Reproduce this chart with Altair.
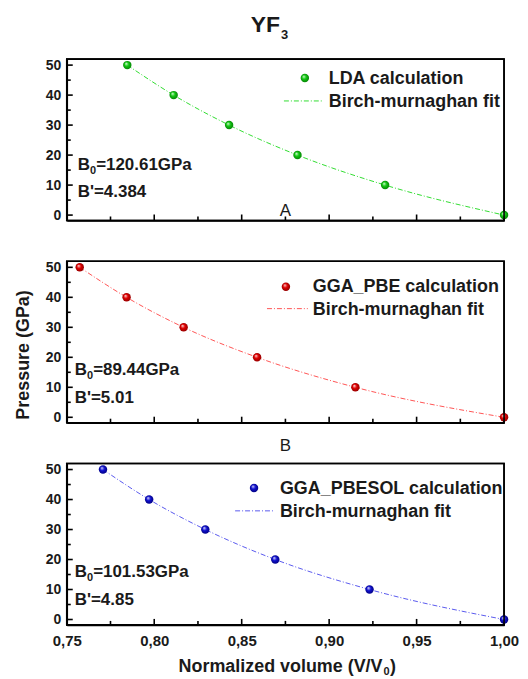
import altair as alt
import pandas as pd

# ---------------- data ----------------
pressures = [50, 40, 30, 20, 10, 0]
vol_lda = [0.7846, 0.8111, 0.8428, 0.8819, 0.9320, 1.0]
vol_pbe = [0.7574, 0.7842, 0.8168, 0.8588, 0.9150, 1.0]
vol_pbesol = [0.7707, 0.7971, 0.8292, 0.8692, 0.9231, 1.0]

series_names = ["LDA calculation", "GGA_PBE calculation", "GGA_PBESOL calculation"]
fit_name = "Birch-murnaghan fit"
b0_texts = ["=120.61GPa", "=89.44GPa", "=101.53GPa"]
bp_texts = ["B'=4.384", "B'=5.01", "B'=4.85"]
panel_letters = ["A", "B", None]

x_major = [0.75, 0.80, 0.85, 0.90, 0.95, 1.00]
x_minor = [0.775, 0.825, 0.875, 0.925, 0.975]
y_major = [0, 10, 20, 30, 40, 50]
y_minor = [5, 15, 25, 35, 45]

# ---------------- style ----------------
FONT = "Liberation Sans"
INK = "black"
W, H = 439, 162
xscale = alt.Scale(domain=[0.75, 1.0], nice=False, zero=False)
yscale = alt.Scale(domain=[-1.8, 52], nice=False, zero=False)

point_colors = [("#e8ffe8", "#10c810", "#067a06"),
                ("#ffe8e8", "#e00000", "#8a0000"),
                ("#e8e8ff", "#1010d0", "#00007a")]
line_colors = ["#33dd33", "#ff5555", "#5a5aee"]

# legend/annotation layout per panel (pixels inside plot area)
leg = [
    dict(px=239, py=19, tx=263, t1=25, lx1=218, lx2=258, ly=42, t2=48.5, ax=11, b0y=111, bpy=138),
    dict(px=220, py=25.5, tx=247, t1=31, lx1=201, lx2=242, ly=47.5, t2=53.5, ax=8, b0y=114.5, bpy=142.5),
    dict(px=188, py=24.5, tx=214, t1=31, lx1=169, lx2=209, ly=47.5, t2=54, ax=8, b0y=114, bpy=142),
]

one = pd.DataFrame({"k": [0]})


def grad(c):
    hi, mid, lo = c
    return alt.Gradient(
        gradient="radial",
        stops=[alt.GradientStop(color=hi, offset=0.0),
               alt.GradientStop(color=mid, offset=0.45),
               alt.GradientStop(color=lo, offset=1.0)],
        x1=0.35, y1=0.3, r1=0.0, x2=0.5, y2=0.5, r2=0.55,
    )


def txt(text, x, y, size, weight="bold", align="left", angle=0, baseline="alphabetic"):
    kw = dict(text=text, font=FONT, fontSize=size, fontWeight=weight, color="#1a1a1a",
              align=align, baseline=baseline)
    if angle:
        kw["angle"] = angle
    return alt.Chart(one).mark_text(**kw).encode(x=alt.value(x), y=alt.value(y))


def panel(i, vols, show_x):
    L = leg[i]
    if show_x:
        xaxis = alt.Axis(values=x_major, ticks=False, domain=True, domainColor=INK,
                         domainWidth=1.6, grid=False, title=None,
                         labelExpr="replace(format(datum.value, '.2f'), '.', ',')",
                         labelFont=FONT, labelFontSize=15, labelFontWeight="bold",
                         labelColor="#1a1a1a", labelPadding=9, labelFlush=False,
                         labelOverlap=False)
    else:
        xaxis = alt.Axis(labels=False, ticks=False, domain=True, domainColor=INK,
                         domainWidth=1.6, grid=False, title=None)
    yaxis = alt.Axis(values=y_major, ticks=False, domain=True, domainColor=INK,
                     domainWidth=1.6, grid=False, title=None,
                     labelFont=FONT, labelFontSize=14, labelFontWeight="bold",
                     labelColor="#1a1a1a", labelPadding=6)

    pts = pd.DataFrame({"V": vols, "P": pressures})
    X = alt.X("V:Q", scale=xscale, axis=xaxis)
    Y = alt.Y("P:Q", scale=yscale, axis=yaxis)

    fit = alt.Chart(pts).mark_line(interpolate="monotone", color=line_colors[i],
                                   strokeWidth=1, strokeDash=[5, 2, 1, 2]).encode(x=X, y=Y)
    dots = alt.Chart(pts).mark_circle(size=72, opacity=1, fill=grad(point_colors[i])).encode(x=X, y=Y)

    ymaj = alt.Chart(pd.DataFrame({"P": y_major})).mark_rule(color=INK, strokeWidth=1.6).encode(
        y=Y, x=alt.value(0), x2=alt.value(6))
    ymin = alt.Chart(pd.DataFrame({"P": y_minor})).mark_rule(color=INK, strokeWidth=1.6).encode(
        y=Y, x=alt.value(0), x2=alt.value(4))
    xmaj = alt.Chart(pd.DataFrame({"V": x_major})).mark_rule(color=INK, strokeWidth=1.6).encode(
        x=X, y=alt.value(H), y2=alt.value(H - 6))
    xmin = alt.Chart(pd.DataFrame({"V": x_minor})).mark_rule(color=INK, strokeWidth=1.6).encode(
        x=X, y=alt.value(H), y2=alt.value(H - 4))

    leg_dot = alt.Chart(one).mark_circle(size=72, opacity=1, fill=grad(point_colors[i])).encode(
        x=alt.value(L["px"]), y=alt.value(L["py"]))
    leg_line = alt.Chart(one).mark_rule(color=line_colors[i], strokeWidth=1,
                                        strokeDash=[5, 2, 1, 2]).encode(
        x=alt.value(L["lx1"]), x2=alt.value(L["lx2"]), y=alt.value(L["ly"]))
    leg_t1 = txt(series_names[i], L["tx"], L["t1"], 18)
    leg_t2 = txt(fit_name, L["tx"], L["t2"], 18)

    a_b = txt("B", L["ax"], L["b0y"], 17)
    a_0 = txt("0", L["ax"] + 12.3, L["b0y"] + 4, 11)
    a_v = txt(b0_texts[i], L["ax"] + 18.5, L["b0y"], 17)
    a_p = txt(bp_texts[i], L["ax"], L["bpy"], 17)

    frame = alt.Chart(one).mark_rect(fill=None, stroke=INK, strokeWidth=1.6).encode(
        x=alt.value(0), x2=alt.value(W), y=alt.value(0), y2=alt.value(H))

    # invisible spacer that gives every panel the same layout extent
    top_extent = -48.5 if i == 0 else 0
    spacer = alt.Chart(one).mark_rule(color="white", opacity=0, strokeWidth=1).encode(
        x=alt.value(-57.5), x2=alt.value(-57.5), y=alt.value(top_extent), y2=alt.value(193.5))

    layers = [spacer, ymaj, ymin, xmaj, xmin, fit, dots, leg_dot, leg_line, leg_t1, leg_t2,
              a_b, a_0, a_v, a_p]

    if panel_letters[i] == "A":
        layers.append(txt("A", W / 2, 158, 17, weight="normal", align="center"))
    if panel_letters[i] == "B":
        layers.append(txt("B", W / 2, 190, 17, weight="normal", align="center"))
    if i == 0:
        layers.append(txt("YF", 214, -27, 23, align="right"))
        layers.append(txt("3", 215, -20.5, 13))
    if i == 1:
        layers.append(txt("Pressure (GPa)", -43, 94, 18, align="center", angle=270,
                          baseline="middle"))
    if i == 2:
        layers.append(txt("Normalized volume (V/V", 317, 209, 18, align="right"))
        layers.append(txt("0", 318, 212, 11))
        layers.append(txt(")", 324.5, 209, 18))
    layers.append(frame)

    return alt.layer(*layers).properties(width=W, height=H)


p1 = panel(0, vol_lda, False)
p2 = panel(1, vol_pbe, False)
p3 = panel(2, vol_pbesol, True)

chart = alt.vconcat(p1, p2, p3, spacing=6).properties(padding=0).configure_view(
    stroke=INK, strokeWidth=1.6)

chart.save("out.html", embed_options={"renderer": "svg", "actions": False})
